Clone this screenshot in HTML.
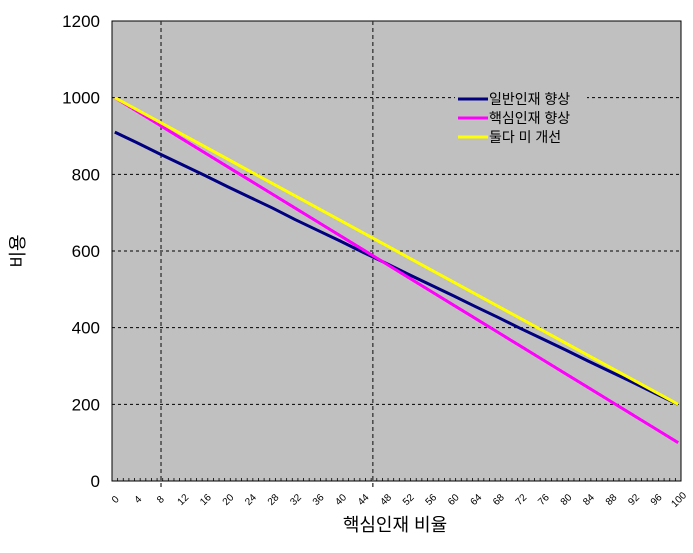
<!DOCTYPE html>
<html><head><meta charset="utf-8"><style>
body{margin:0;background:#fff;font-family:"Liberation Sans","Noto Sans CJK KR",sans-serif}
</style></head><body>
<svg width="693" height="548" xmlns="http://www.w3.org/2000/svg" font-family="Liberation Sans, Noto Sans CJK KR, sans-serif">
<g id="g"></g>
</svg>
<script>
const xs=[0,4,8,12,16,20,24,28,32,36,40,44,48,52,56,60,64,68,72,76,80,84,88,92,96,100];
const general=[910,882,853,825,797,768,740,712,682,654,626,597,569,540,512,484,455,427,398,370,342,313,285,257,228,200];
const core=[1000,964,928,892,856,820,784,748,712,676,640,604,568,532,496,460,424,388,352,316,280,244,208,172,136,100];
const neither=[1000,968,936,904,872,840,808,776,744,712,680,648,616,584,552,520,488,456,424,392,360,328,296,264,232,200];
const yTicks=[0,200,400,600,800,1000,1200];
const vLines=[8.2,45.8];
const L=112,R=681,T=21,B=481;
const sx=v=>L+(R-L)*(v+0.5)/101;
const sy=v=>B-(B-T)*v/1200;
const g=document.getElementById('g');
const NS='http://www.w3.org/2000/svg';
function mk(t,a,p){const e=document.createElementNS(NS,t);for(const k in a)e.setAttribute(k,a[k]);(p||g).appendChild(e);return e;}
let e=mk('rect',{x:L,y:T,width:R-L,height:B-T,fill:'#c0c0c0',stroke:'#000','stroke-width':1});

yTicks.forEach(v=>{
  if(v>0&&v<1200){let l=mk('line',{x1:L,x2:R,y1:sy(v),y2:sy(v),stroke:'#000','stroke-dasharray':'3,3','stroke-width':1});
  }
  let t=mk('text',{x:L-12,y:sy(v)+6,'text-anchor':'end','font-size':17});t.textContent=v;
  
});
vLines.forEach(v=>{let l=mk('line',{x1:sx(v),x2:sx(v),y1:T,y2:B+8,stroke:'#333','stroke-dasharray':'4,3','stroke-width':1.3});
});
for(let i=0;i<=101;i++){let x=L+(R-L)*i/101;mk('line',{x1:x,x2:x,y1:B-3,y2:B,stroke:'#000','stroke-width':0.8});}
xs.forEach(v=>{let x=sx(v);let t=mk('text',{x:x,y:B+22,'text-anchor':'middle','font-size':10,transform:`rotate(-45 ${x} ${B+18})`});t.textContent=v;
});
const series=[[general,'#000080','general-upgrade-line'],[core,'#ff00ff','core-upgrade-line'],[neither,'#ffff00','no-improvement-line']];
series.forEach(([d,c,n])=>{let p=mk('polyline',{points:xs.map((x,i)=>sx(x)+','+sy(d[i])).join(' '),fill:'none',stroke:c,'stroke-width':3});
});
const leg=mk('g',{});
mk('rect',{x:455,y:90,width:132,height:58,fill:'#c0c0c0'},leg);
[['일반인재 향상','#000080'],['핵심인재 향상','#ff00ff'],['둘다 미 개선','#ffff00']].forEach(([s,c],i)=>{
  let y=99+i*19;mk('line',{x1:458,x2:488,y1:y,y2:y,stroke:c,'stroke-width':3},leg);
  let t=mk('text',{x:489,y:y+5,'font-size':14},leg);t.textContent=s;
  
});
let xt=mk('text',{x:395,y:531,'text-anchor':'middle','font-size':18});xt.textContent='핵심인재 비율';

let yt=mk('text',{x:24,y:251,'text-anchor':'middle','font-size':18,transform:'rotate(-90 24 251)'});yt.textContent='비용';

</script>
</body></html>
